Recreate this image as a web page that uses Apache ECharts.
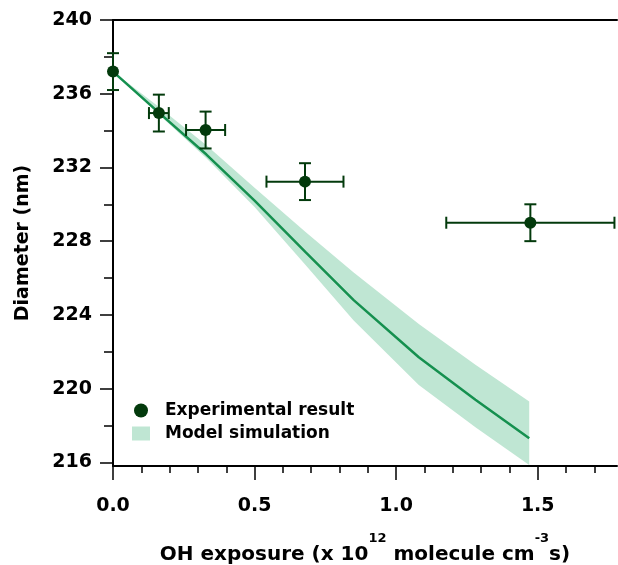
<!DOCTYPE html>
<html>
<head>
<meta charset="utf-8">
<script src="https://cdn.jsdelivr.net/npm/echarts@6/dist/echarts.min.js"></script>
<style>
  html, body { margin: 0; padding: 0; background: #fff; }
  #chart { width: 618px; height: 565px; }
</style>
</head>
<body>
<div id="chart"></div>
<script>
  // experimental points (x in 1e12 molecule cm-3 s, diameter in nm)
  const expX = [0, 0.162, 0.327, 0.678, 1.474];
  const expY = [237.2, 234.95, 234.03, 231.23, 229.0];
  const expXErr = [0, 0.035, 0.069, 0.136, 0.297];
  const expYErr = [1.0, 1.0, 1.0, 1.0, 1.0];

  // model simulation: central line and band limits
  const modelX = [0, 0.16, 0.33, 0.50, 0.68, 0.85, 1.08, 1.28, 1.47];
  const modelY = [237.2, 235.0, 232.7, 230.2, 227.4, 224.8, 221.7, 219.4, 217.3];
  const modelHi = [237.2, 235.3, 233.2, 230.9, 228.5, 226.3, 223.5, 221.3, 219.3];
  const modelLo = [237.2, 234.9, 232.5, 229.85, 226.7, 223.7, 220.2, 217.9, 215.85];

  // tick labels
  const xMajor = [0, 0.5, 1.0, 1.5];
  const xMinor = [0.1, 0.2, 0.3, 0.4, 0.6, 0.7, 0.8, 0.9, 1.1, 1.2, 1.3, 1.4, 1.6, 1.7];
  const yMajor = [216, 220, 224, 228, 232, 236, 240];
  const yMinor = [218, 222, 226, 230, 234, 238];

  const FONT = '"DejaVu Sans", "Liberation Sans", Arial, sans-serif';
  const DARK = '#033a0c';
  const LINE = '#15904f';
  const BAND = '#bfe6d3';

  const myChart = echarts.init(document.getElementById('chart'));

  const xBase = { type: 'value', min: 0, max: 1.78, gridIndex: 0, splitLine: { show: false } };
  const yBase = { type: 'value', min: 215.8, max: 240, gridIndex: 0, splitLine: { show: false } };

  const option = {
    animation: false,
    backgroundColor: '#fff',
    grid: { left: 113, right: 1, top: 20, bottom: 99, containLabel: false, outerBoundsMode: 'none' },
    legend: {
      orient: 'vertical',
      left: 132,
      top: 402,
      padding: 0,
      itemWidth: 18,
      itemHeight: 14,
      itemGap: 6,
      selectedMode: false,
      textStyle: { fontFamily: FONT, fontWeight: 'bold', fontSize: 17, color: '#000', padding: [0, 0, 0, 10] },
      data: [
        { name: 'Experimental result', icon: 'circle', itemStyle: { color: DARK } },
        { name: 'Model simulation', icon: 'rect', itemStyle: { color: BAND } }
      ]
    },
    xAxis: [
      Object.assign({}, xBase, {
        position: 'bottom',
        axisLine: { onZero: false, lineStyle: { color: '#000', width: 2 } },
        axisTick: { inside: false, length: 14, lineStyle: { color: '#000', width: 1.5 }, customValues: xMajor },
        axisLabel: {
          customValues: xMajor,
          margin: 31,
          fontFamily: FONT, fontWeight: 'bold', fontSize: 19, color: '#000',
          formatter: v => v.toFixed(1)
        },
        name: '{m|OH exposure (x 10}{s|12}{m| molecule cm}{s|-3}{m|s)}',
        nameLocation: 'middle',
        nameGap: 66,
        nameTextStyle: {
          rich: {
            m: { fontFamily: FONT, fontWeight: 'bold', fontSize: 20, color: '#000', lineHeight: 33, verticalAlign: 'bottom' },
            s: { fontFamily: FONT, fontWeight: 'bold', fontSize: 13, color: '#000', lineHeight: 14, verticalAlign: 'top' }
          }
        }
      }),
      Object.assign({}, xBase, {
        position: 'bottom',
        axisLine: { show: false, onZero: false },
        axisTick: { length: 7, lineStyle: { color: '#000', width: 1.5 }, customValues: xMinor },
        axisLabel: { show: false }
      }),
      Object.assign({}, xBase, {
        position: 'top',
        axisLine: { onZero: false, lineStyle: { color: '#000', width: 2 } },
        axisTick: { show: false },
        axisLabel: { show: false }
      })
    ],
    yAxis: [
      Object.assign({}, yBase, {
        position: 'left',
        axisLine: { show: true, onZero: false, lineStyle: { color: '#000', width: 2 } },
        axisTick: { show: true, length: 13, lineStyle: { color: '#000', width: 1.5 }, customValues: yMajor },
        axisLabel: {
          customValues: yMajor,
          margin: 21,
          fontFamily: FONT, fontWeight: 'bold', fontSize: 19, color: '#000'
        },
        name: 'Diameter (nm)',
        nameLocation: 'middle',
        nameGap: 80,
        nameTextStyle: { fontFamily: FONT, fontWeight: 'bold', fontSize: 19, color: '#000' }
      }),
      Object.assign({}, yBase, {
        position: 'left',
        axisLine: { show: false, onZero: false },
        axisTick: { show: true, length: 9, lineStyle: { color: '#000', width: 1.5 }, customValues: yMinor },
        axisLabel: { show: false }
      })
    ],
    series: [
      {
        // uncertainty band of the model
        name: 'Model simulation',
        type: 'custom',
        xAxisIndex: 0,
        yAxisIndex: 0,
        z: 1,
        itemStyle: { color: BAND },
        data: modelX.map((x, i) => [x, modelLo[i], modelHi[i]]),
        encode: { x: 0, y: [1, 2] },
        renderItem: function (params, api) {
          if (params.dataIndex !== 0) return null;
          const pts = [];
          for (let i = 0; i < modelX.length; i++) pts.push(api.coord([modelX[i], modelHi[i]]));
          for (let i = modelX.length - 1; i >= 0; i--) pts.push(api.coord([modelX[i], modelLo[i]]));
          return { type: 'polygon', shape: { points: pts }, style: { fill: BAND } };
        }
      },
      {
        name: 'Model line',
        type: 'line',
        xAxisIndex: 0,
        yAxisIndex: 0,
        z: 2,
        symbol: 'none',
        lineStyle: { color: LINE, width: 2.5 },
        data: modelX.map((x, i) => [x, modelY[i]])
      },
      {
        name: 'Error bars',
        type: 'custom',
        xAxisIndex: 0,
        yAxisIndex: 0,
        z: 3,
        data: expX.map((x, i) => [x, expY[i], expXErr[i], expYErr[i]]),
        renderItem: function (params, api) {
          const x = api.value(0), y = api.value(1), ex = api.value(2), ey = api.value(3);
          const st = { stroke: DARK, lineWidth: 2 };
          const cap = 6;
          const kids = [];
          const top = api.coord([x, y + ey]);
          const bot = api.coord([x, y - ey]);
          kids.push({ type: 'line', shape: { x1: top[0], y1: top[1], x2: bot[0], y2: bot[1] }, style: st });
          kids.push({ type: 'line', shape: { x1: top[0] - cap, y1: top[1], x2: top[0] + cap, y2: top[1] }, style: st });
          kids.push({ type: 'line', shape: { x1: bot[0] - cap, y1: bot[1], x2: bot[0] + cap, y2: bot[1] }, style: st });
          if (ex > 0) {
            const l = api.coord([x - ex, y]);
            const r = api.coord([x + ex, y]);
            kids.push({ type: 'line', shape: { x1: l[0], y1: l[1], x2: r[0], y2: r[1] }, style: st });
            kids.push({ type: 'line', shape: { x1: l[0], y1: l[1] - cap, x2: l[0], y2: l[1] + cap }, style: st });
            kids.push({ type: 'line', shape: { x1: r[0], y1: r[1] - cap, x2: r[0], y2: r[1] + cap }, style: st });
          }
          return { type: 'group', children: kids };
        }
      },
      {
        name: 'Experimental result',
        type: 'scatter',
        xAxisIndex: 0,
        yAxisIndex: 0,
        z: 4,
        symbol: 'circle',
        symbolSize: 12,
        itemStyle: { color: DARK, opacity: 1 },
        data: expX.map((x, i) => [x, expY[i]])
      }
    ]
  };

  myChart.setOption(option);
</script>
</body>
</html>
